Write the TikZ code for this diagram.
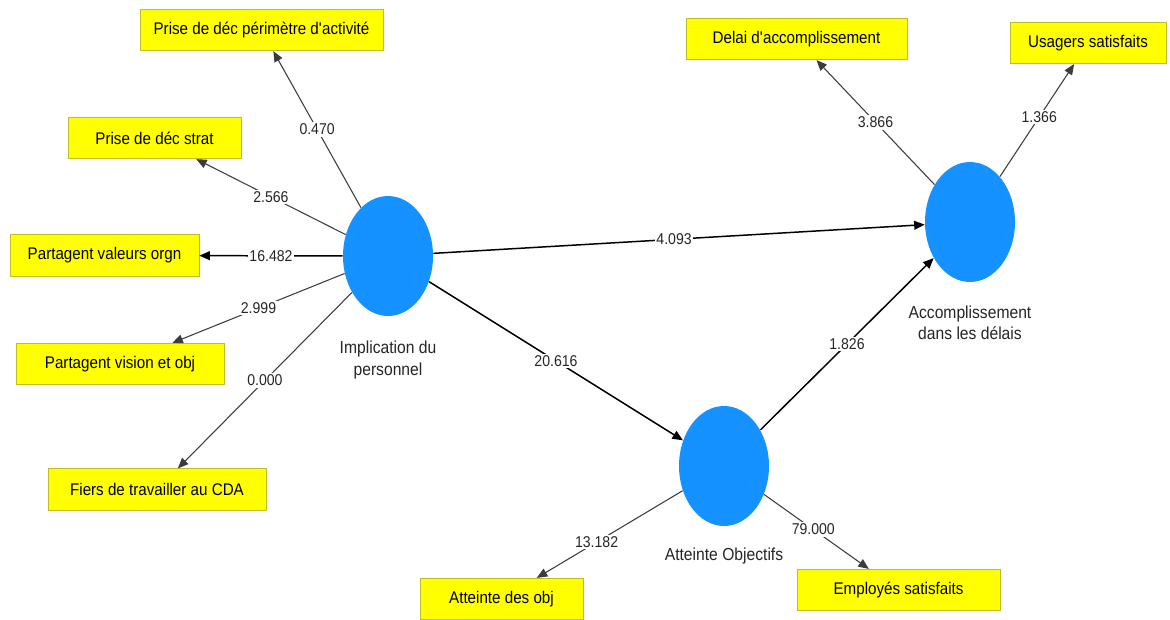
\documentclass[tikz,border=0pt]{standalone}
\usepackage{fontspec}
\setmainfont{Liberation Sans}[FakeStretch=0.9]
\usepackage{tikz}
\usetikzlibrary{arrows.meta,shapes.geometric}
\definecolor{lvblue}{RGB}{21,146,255}
\definecolor{mvyellow}{RGB}{255,255,0}
\definecolor{mvedge}{RGB}{190,190,40}
\definecolor{lnk}{RGB}{60,60,60}

\begin{document}
\begin{tikzpicture}[x=0.02cm,y=-0.02cm,
    lv/.style={ellipse,fill=lvblue,minimum width=1.8cm,minimum height=2.4cm,inner sep=0pt},
    mv/.style={draw=mvedge,fill=mvyellow,minimum height=0.83cm,inner sep=1pt,
      font=\fontsize{9.6}{11}\selectfont},
    lvlabel/.style={align=center,text=black!85,font=\fontsize{9.9}{12}\selectfont},
    val/.style={fill=white,inner sep=1pt,text=black!85,font=\fontsize{8.9}{10}\selectfont},
    arr/.style={-{Triangle[length=6pt,width=5pt]},lnk,line width=0.6pt},
    arrb/.style={arr,black,line width=0.85pt}]
  \fill[white] (0,0) rectangle (1170,619);
  \useasboundingbox (0,0) rectangle (1170,619);
  % latent variables
  \node[lv] (impl) at (388,256){};
  \node[lv] (accomp) at (970,222){};
  \node[lv] (objt) at (724,466){};
  \node[lvlabel] (implLbl) at (388,360){Implication du\\personnel};
  \node[lvlabel] (accompLbl) at (970,323){Accomplissement\\dans les délais};
  \node[lvlabel] (objtLbl) at (724,556){Atteinte Objectifs};
  % indicators
  \node[mv,minimum width=4.86cm] (pdpa) at (261.5,30){Prise de déc périmètre d\textquotesingle activité};
  \node[mv,minimum width=3.46cm] (pds) at (154.5,138){Prise de déc strat};
  \node[mv,minimum width=3.78cm] (pvo) at (104.5,255.5){Partagent valeurs orgn};
  \node[mv,minimum width=4.16cm] (pvso) at (120,364){Partagent vision et obj};
  \node[mv,minimum width=4.36cm] (ftc) at (157,489.5){Fiers de travailler au CDA};
  \node[mv,minimum width=4.42cm] (dla) at (796.5,39){Delai d\textquotesingle accomplissement};
  \node[mv,minimum width=3.12cm] (usg) at (1088,43){Usagers satisfaits};
  \node[mv,minimum width=3.26cm] (ado) at (501.5,599){Atteinte des obj};
  \node[mv,minimum width=4.06cm] (emp) at (898.5,590){Employés satisfaits};
  % paths
  \draw[arr] (impl) -- node[val]{0.470} (pdpa);
  \draw[arr] (impl) -- node[val]{2.566} (pds);
  \draw[arrb] (impl) -- node[val]{16.482} (pvo);
  \draw[arr] (impl) -- node[val]{2.999} (pvso);
  \draw[arr] (impl) -- node[val]{0.000} (ftc);
  \draw[arrb] (impl) -- node[val,pos=0.49]{4.093} (accomp);
  \draw[arrb] (impl) -- node[val]{20.616} (objt);
  \draw[arrb] (objt) -- node[val]{1.826} (accomp);
  \draw[arr] (accomp) -- node[val]{3.866} (dla);
  \draw[arr] (accomp) -- node[val,pos=0.53]{1.366} (usg);
  \draw[arr] (objt) -- node[val,pos=0.59]{13.182} (ado);
  \draw[arr] (objt) -- node[val,pos=0.47]{79.000} (emp);
\end{tikzpicture}
\end{document}
